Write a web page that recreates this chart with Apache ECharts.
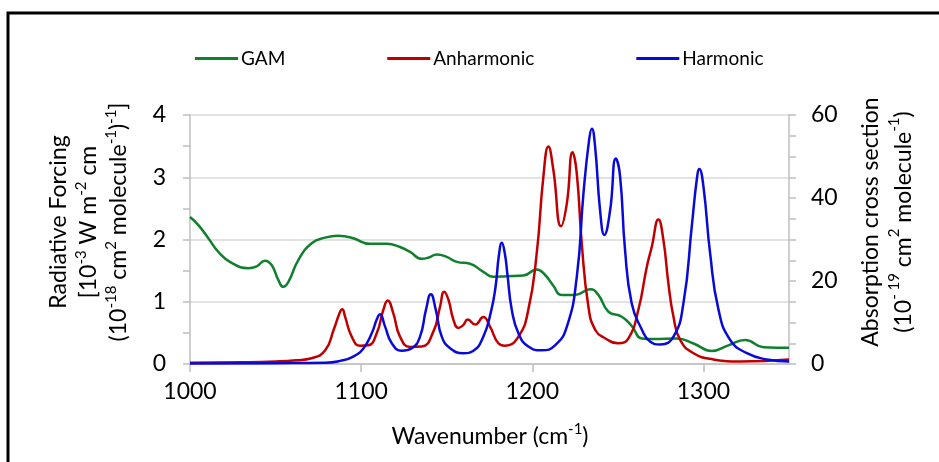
<!DOCTYPE html>
<html><head><meta charset="utf-8">
<script src="https://cdn.jsdelivr.net/npm/echarts@6/dist/echarts.min.js"></script>
<style>html,body{margin:0;padding:0;background:#fff}#c{width:939px;height:462px}</style>
</head><body><div id="c"></div>
<script>
const seriesNames = ['GAM', 'Anharmonic', 'Harmonic'];
const leftTicks = [0, 1, 2, 3, 4];
const rightTicks = [0, 20, 40, 60];
const xTicks = [1000, 1100, 1200, 1300];

// GAM radiative forcing (left axis, 10^-3 W m^-2 cm (10^-18 cm2 molecule^-1)^-1)
const gamWavenumber = [1000, 1004.9, 1010.7, 1016.6, 1024, 1034, 1039, 1043.8, 1047.7, 1051.6, 1054.5, 1057.5, 1063.3, 1071.1, 1078.9, 1086.7, 1090.6, 1095.4, 1105.2, 1115, 1122.7, 1128.6, 1135.4, 1139.5, 1144.2, 1150, 1155.9, 1163.6, 1171.4, 1177.3, 1185, 1194.8, 1202.6, 1207.5, 1212, 1217.2, 1225, 1233.8, 1238.6, 1244.5, 1252.3, 1258.1, 1264, 1270.8, 1284.4, 1294.2, 1304.9, 1314.6, 1324.4, 1335.1, 1350];
const gamForcing = [2.36, 2.23, 2.02, 1.80, 1.63, 1.54, 1.57, 1.66, 1.59, 1.35, 1.24, 1.32, 1.67, 1.94, 2.03, 2.06, 2.05, 2.02, 1.93, 1.93, 1.88, 1.80, 1.69, 1.71, 1.76, 1.72, 1.64, 1.61, 1.48, 1.40, 1.41, 1.42, 1.52, 1.43, 1.27, 1.11, 1.11, 1.20, 1.11, 0.84, 0.76, 0.61, 0.41, 0.40, 0.41, 0.33, 0.21, 0.30, 0.385, 0.27, 0.26];

// Anharmonic absorption cross section (right axis, 10^-19 cm2 molecule^-1)
const anhWavenumber = [1000, 1030, 1050, 1062, 1071, 1079, 1084, 1087.7, 1089, 1090.6, 1094.5, 1099.4, 1104.2, 1109.1, 1113, 1115.5, 1118.8, 1122.7, 1128.6, 1135.4, 1142.2, 1146.1, 1148.5, 1151, 1153.9, 1156.8, 1159.5, 1162.3, 1166.6, 1171.4, 1175.3, 1180.2, 1184.1, 1191.9, 1197.7, 1202.6, 1206.5, 1209.4, 1212.3, 1216.8, 1220.2, 1223.5, 1226, 1228.9, 1232.8, 1236.7, 1242.5, 1250.3, 1256.2, 1262, 1266.9, 1269.8, 1273.7, 1276.6, 1279.5, 1282.5, 1286.4, 1294.2, 1305.8, 1321.4, 1350];
const anhCross = [0.3, 0.4, 0.6, 0.9, 1.4, 3.3, 8.3, 12.6, 13.2, 11.4, 6.6, 4.4, 4.5, 7.4, 13.1, 15.3, 12.2, 6.6, 4.1, 4.2, 7.8, 13.8, 17.4, 15.5, 10.7, 8.7, 9.3, 10.7, 9.5, 11.3, 9.0, 5.0, 4.4, 6.6, 13.1, 26.7, 45.2, 52.4, 46.8, 33.2, 38.7, 51.0, 45.9, 29.1, 13.8, 8.3, 6.2, 5.0, 6.2, 13.1, 23.4, 28.2, 34.8, 29.9, 19.5, 11.4, 5.8, 2.6, 1.1, 0.6, 1.1];

// Harmonic absorption cross section (right axis)
const harWavenumber = [1000, 1050, 1079, 1087.7, 1095.4, 1101.3, 1106.2, 1109.1, 1111, 1114, 1117.9, 1123.7, 1129.6, 1134.4, 1137.9, 1140.7, 1143.6, 1147.1, 1152, 1159.7, 1165.6, 1171.4, 1175.8, 1178.5, 1180.5, 1182.2, 1184, 1185.5, 1188, 1191.9, 1197.7, 1205.5, 1213.3, 1220.2, 1226, 1229.9, 1233.2, 1234.8, 1236.7, 1239.6, 1242.1, 1245.5, 1248.8, 1251.3, 1254.2, 1258.1, 1264, 1268.8, 1274.7, 1282.5, 1288.3, 1293.2, 1296.1, 1297.6, 1300, 1303.9, 1308.8, 1315.6, 1325.4, 1337, 1350];
const harCross = [0.1, 0.2, 0.3, 0.75, 1.8, 3.75, 7.4, 10.7, 12.0, 9.0, 5.0, 3.2, 3.8, 6.6, 13.1, 16.8, 13.1, 6.6, 3.8, 2.6, 3.2, 6.6, 12.5, 18.5, 26.2, 29.2, 26.5, 21.5, 13.1, 7.4, 4.2, 3.3, 4.5, 9.0, 21.0, 41.1, 54.0, 56.7, 52.4, 37.1, 31.1, 37.1, 49.5, 45.2, 27.5, 14.6, 8.3, 5.4, 4.7, 6.6, 14.6, 33.2, 44.4, 47.0, 42.8, 26.7, 13.1, 5.8, 2.6, 1.1, 0.6];

const pairs = (xs, ys) => xs.map((x, i) => [x, ys[i]]);
const FONT = 'Lato, "Open Sans", sans-serif';
const gray = '#bfbfbf';
const supStyle = { fontSize: 15, fontFamily: FONT, fill: '#000', verticalAlign: 'top', lineHeight: 17 };

const chart = echarts.init(document.getElementById('c'), null, { renderer: 'canvas' });
chart.setOption({
  animation: false,
  backgroundColor: '#fff',
  grid: { left: 190, right: 150, top: 115, bottom: 98, containLabel: false },
  legend: {
    data: seriesNames,
    left: 190, top: 44,
    icon: 'rect',
    itemWidth: 43, itemHeight: 3, itemGap: 102,
    textStyle: { fontSize: 19, fontFamily: FONT, color: '#000', padding: [0, 0, 0, -2] }
  },
  xAxis: {
    type: 'value', min: xTicks[0], max: 1350, interval: 100,
    axisLine: { show: true, lineStyle: { color: gray, width: 1.5 } },
    axisTick: { show: true, length: 8, lineStyle: { color: gray, width: 1.5 } },
    axisLabel: { fontSize: 23, fontFamily: FONT, color: '#000', margin: 16, showMaxLabel: false,
      formatter: v => String(v) },
    splitLine: { show: false }
  },
  yAxis: [
    {
      type: 'value', min: leftTicks[0], max: leftTicks[leftTicks.length - 1], interval: 1,
      axisLine: { show: true, lineStyle: { color: gray, width: 1.5 } },
      axisTick: { show: true, length: 7, lineStyle: { color: gray, width: 1.5 } },
      minorTick: { show: true, splitNumber: 2, length: 7, lineStyle: { color: gray, width: 1.5 } },
      splitLine: { show: true, lineStyle: { color: '#d9d9d9', width: 1.5 } },
      axisLabel: { fontSize: 23, fontFamily: FONT, color: '#000', margin: 24 }
    },
    {
      type: 'value', position: 'right', min: rightTicks[0], max: rightTicks[rightTicks.length - 1], interval: 20,
      axisLine: { show: true, lineStyle: { color: gray, width: 1.5 } },
      axisTick: { show: true, length: 7, lineStyle: { color: gray, width: 1.5 } },
      minorTick: { show: true, splitNumber: 4, length: 7, lineStyle: { color: gray, width: 1.5 } },
      splitLine: { show: false },
      axisLabel: { fontSize: 23, fontFamily: FONT, color: '#000', margin: 22 }
    }
  ],
  series: [
    { name: seriesNames[0], type: 'line', yAxisIndex: 0, data: pairs(gamWavenumber, gamForcing),
      symbol: 'none', smooth: 0.5, color: '#11802e', lineStyle: { width: 2.5 } },
    { name: seriesNames[1], type: 'line', yAxisIndex: 1, data: pairs(anhWavenumber, anhCross),
      symbol: 'none', smooth: 0.5, color: '#c00000', lineStyle: { width: 2.5 } },
    { name: seriesNames[2], type: 'line', yAxisIndex: 1, data: pairs(harWavenumber, harCross),
      symbol: 'none', smooth: 0.5, color: '#0a0ad8', lineStyle: { width: 2.5 } }
  ],
  graphic: [
    { type: 'rect', silent: true, shape: { x: 8, y: 13, width: 1000, height: 1000 },
      style: { fill: 'none', stroke: '#000', lineWidth: 3 } },
    { type: 'text', x: 89, y: 222, rotation: Math.PI / 2,
      style: {
        text: 'Radiative Forcing\n[10{s|-3} W m{s|-2} cm\n(10{s|-18} cm{s|2} molecule{s|-1}){s|-1}]',
        fontSize: 23, fontFamily: FONT, fill: '#000', align: 'center', verticalAlign: 'middle', lineHeight: 30,
        rich: { s: supStyle }
      } },
    { type: 'text', x: 887, y: 222, rotation: Math.PI / 2,
      style: {
        text: 'Absorption cross section\n(10{s|- 19} cm{s|2} molecule{s|-1})',
        fontSize: 23, fontFamily: FONT, fill: '#000', align: 'center', verticalAlign: 'middle', lineHeight: 33,
        rich: { s: supStyle }
      } },
    { type: 'text', x: 490, y: 437,
      style: {
        text: 'Wavenumber (cm{s|-1})',
        fontSize: 23, fontFamily: FONT, fill: '#000', align: 'center', verticalAlign: 'middle', lineHeight: 30,
        rich: { s: supStyle }
      } }
  ]
});
</script>
</body></html>
